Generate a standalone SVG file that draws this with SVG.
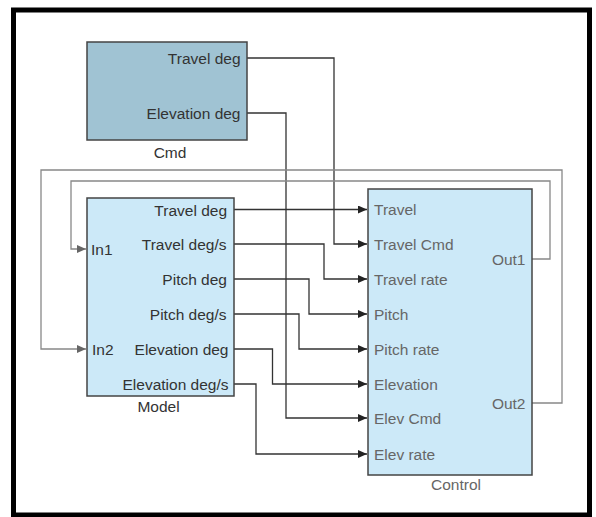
<svg xmlns="http://www.w3.org/2000/svg" width="596" height="517" viewBox="0 0 596 517">
<defs>
<style>
.frame{fill:#fff;stroke:#000;stroke-width:5}
.box{stroke:#444;stroke-width:1.5}
.light{fill:#cce9f8}
.dark{fill:#a0c3d3}
text{font-family:"Liberation Sans",Arial,sans-serif;font-size:15.5px}
.t1{fill:#333}
.t2{fill:#666}
.r{text-anchor:end}
.m{text-anchor:middle}
.w{fill:none;stroke:#333;stroke-width:1.3}
.g{fill:none;stroke:#888;stroke-width:1.3}
</style>
<marker id="ab" markerUnits="userSpaceOnUse" markerWidth="10" markerHeight="9" refX="9" refY="4" orient="auto"><path d="M0,0 L9,4 L0,8 z" fill="#222"/></marker>
<marker id="ag" markerUnits="userSpaceOnUse" markerWidth="10" markerHeight="9" refX="9" refY="4" orient="auto"><path d="M0,0 L9,4 L0,8 z" fill="#666"/></marker>
</defs>
<rect class="frame" x="13.5" y="10" width="576" height="505"/>
<g id="connectors">
<path class="w" d="M234,209.5 H367" marker-end="url(#ab)"/>
<path class="w" d="M234,244 H324 V279 H367" marker-end="url(#ab)"/>
<path class="w" d="M234,279 H309 V314 H367" marker-end="url(#ab)"/>
<path class="w" d="M234,314 H299 V349 H367" marker-end="url(#ab)"/>
<path class="w" d="M234,349 H272.5 V384 H367" marker-end="url(#ab)"/>
<path class="w" d="M234,384 H256 V454 H367" marker-end="url(#ab)"/>
<path class="w" d="M247,58 H334 V244 H367" marker-end="url(#ab)"/>
<path class="w" d="M247,113 H286 V418 H367" marker-end="url(#ab)"/>
<path class="g" d="M532,259 H550 V181 H71 V249 H86" marker-end="url(#ag)"/>
<path class="g" d="M532,403 H562 V170 H41 V349 H86" marker-end="url(#ag)"/>
</g>
<g id="cmd">
<rect class="box dark" x="87" y="42" width="160" height="98"/>
<text class="t1 r" x="240.5" y="63.5">Travel deg</text>
<text class="t1 r" x="240.5" y="118.5">Elevation deg</text>
<text class="t1 m" x="170" y="158">Cmd</text>
</g>
<g id="model">
<rect class="box light" x="87" y="198" width="147" height="198"/>
<text class="t1" x="91" y="254.5">In1</text>
<text class="t1" x="92" y="354.5">In2</text>
<text class="t1 r" x="227" y="215.5">Travel deg</text>
<text class="t1 r" x="226.5" y="249.5">Travel deg/s</text>
<text class="t1 r" x="227" y="284.5">Pitch deg</text>
<text class="t1 r" x="226.5" y="319.5">Pitch deg/s</text>
<text class="t1 r" x="228.5" y="354.5">Elevation deg</text>
<text class="t1 r" x="228.5" y="389.5">Elevation deg/s</text>
<text class="t1 m" x="158.5" y="412">Model</text>
</g>
<g id="control">
<rect class="box light" x="368" y="189" width="164" height="286"/>
<text class="t2" x="374" y="215">Travel</text>
<text class="t2" x="374" y="249.5">Travel Cmd</text>
<text class="t2" x="374" y="284.5">Travel rate</text>
<text class="t2" x="374" y="319.5">Pitch</text>
<text class="t2" x="374" y="354.5">Pitch rate</text>
<text class="t2" x="374" y="389.5">Elevation</text>
<text class="t2" x="374" y="423.5">Elev Cmd</text>
<text class="t2" x="374" y="459.5">Elev rate</text>
<text class="t2 r" x="525.5" y="264.5">Out1</text>
<text class="t2 r" x="525.5" y="408.5">Out2</text>
<text class="t2 m" x="456" y="490">Control</text>
</g>
</svg>
